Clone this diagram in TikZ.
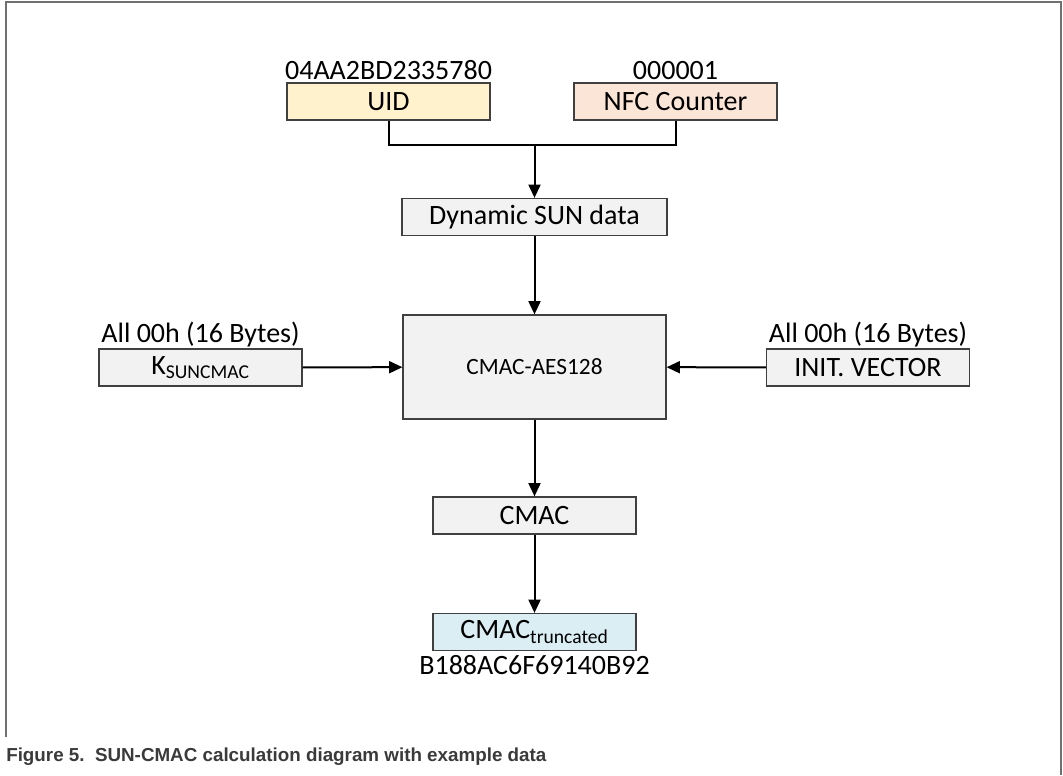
\documentclass[tikz,border=0pt]{standalone}
\usepackage{fontspec}
\setmainfont{Carlito}
\newfontfamily\capfont{Liberation Sans}
\usetikzlibrary{positioning, arrows.meta}
\definecolor{uidfill}{HTML}{FFF2CC}
\definecolor{nfcfill}{HTML}{FBE5D6}
\definecolor{boxfill}{HTML}{F2F2F2}
\definecolor{truncfill}{HTML}{DAEEF3}
\definecolor{boxline}{HTML}{404040}
\definecolor{framegray}{HTML}{707070}
\definecolor{capgray}{HTML}{3A3A3A}

\tikzset{
  block/.style={draw=boxline, line width=0.9pt, fill=boxfill, inner sep=0pt,
                minimum width=152.25pt, minimum height=27.75pt,
                font=\fontsize{21}{23}\selectfont},
  value/.style={inner sep=0pt, font=\fontsize{21}{23}\selectfont},
  flow/.style={->, line width=1.5pt},
}

\begin{document}
\begin{tikzpicture}[x=0.75pt,y=-0.75pt,>={Triangle[length=10pt,width=9pt]},node distance=2pt]
                \useasboundingbox (0,0) rectangle (1063,775);
                \draw[framegray, line width=1.3pt] (6,737) |- (1061,2) -- (1061,775);

                \node[block, minimum width=197.25pt, minimum height=78pt] (aes) at (534.5,367) {\fontsize{17.5}{19}\selectfont CMAC-AES128};
                \node[block, minimum width=198.75pt] (dyn) at (534.5,217) {Dynamic SUN data};
                \node[block, fill=uidfill] (uid) at (388.5,101.5) {UID};
                \node[block, fill=nfcfill] (nfc) at (675.5,101.5) {NFC Counter};
                \node[block] (key) at (200.5,367.5) {K\textsubscript{SUNCMAC}};
                \node[block] (iv) at (868,367.5) {INIT. VECTOR};
                \node[block] (cmac) at (534.5,515.5) {CMAC};
                \node[block, fill=truncfill] (trunc) at (534.5,632) {CMAC\textsubscript{truncated}};

                \node[value] (uidval) [above=2pt of uid] {04AA2BD2335780};
                \node[value] (nfcval) [above=2pt of nfc] {000001};
                \node[value] (keyval) [above=1pt of key] {All 00h (16 Bytes)};
                \node[value] (ivval) [above=1pt of iv] {All 00h (16 Bytes)};
                \node[value] (truncval) [below=3pt of trunc] {B188AC6F69140B92};

                \coordinate (join) at (534.5,145);

                \draw[line width=1.5pt] (uid.south) |- (join) -| (nfc.south);
                \path
                (join) edge[flow] (dyn)
                (dyn) edge[flow] (aes)
                (key) edge[flow] (aes)
                (iv) edge[flow] (aes)
                (aes) edge[flow] (cmac)
                (cmac) edge[flow] (trunc)
                ;

                \node[anchor=west, inner sep=0pt, text=capgray, font=\capfont\bfseries\fontsize{14.1}{16}\selectfont] (caption) at (6,757)
                  {Figure 5.\ \ SUN-CMAC calculation diagram with example data};
            \end{tikzpicture}
\end{document}
